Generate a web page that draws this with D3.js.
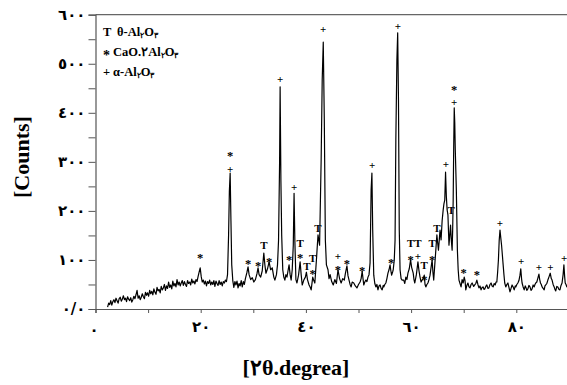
<!DOCTYPE html>
<html>
<head>
<meta charset="utf-8">
<script src="https://cdn.jsdelivr.net/npm/d3@7"></script>
<style>
  body { margin: 0; background: #fff; }
  svg { display: block; }
</style>
</head>
<body>
<div id="chart"></div>
<script>
// XRD pattern, [2theta, counts]
const pattern = [
  [2.3, 4], [2.5, 12], [2.7, 9], [2.9, 17], [3.1, 8], [3.3, 15], [3.5, 19], [3.7, 13], [3.9, 22], [4.1, 17],
  [4.3, 12], [4.5, 21], [4.7, 24], [4.9, 16], [5.1, 20], [5.3, 27], [5.5, 19], [5.7, 22], [5.9, 15], [6.1, 25],
  [6.3, 20], [6.5, 17], [6.7, 23], [6.9, 14], [7.1, 19], [7.3, 26], [7.5, 21], [7.7, 29], [7.9, 38], [8.1, 22],
  [8.3, 27], [8.5, 19], [8.7, 24], [8.9, 31], [9.1, 25], [9.3, 21], [9.5, 34], [9.7, 28], [9.9, 33], [10.1, 26],
  [10.3, 38], [10.5, 31], [10.7, 36], [10.9, 29], [11.1, 41], [11.3, 34], [11.5, 30], [11.7, 44], [11.9, 37], [12.1, 40],
  [12.3, 33], [12.5, 46], [12.7, 39], [12.9, 43], [13.1, 50], [13.3, 38], [13.5, 47], [13.7, 42], [13.9, 55], [14.1, 44],
  [14.3, 49], [14.5, 41], [14.7, 57], [14.9, 47], [15.1, 52], [15.3, 45], [15.5, 60], [15.7, 49], [15.9, 55], [16.1, 47],
  [16.3, 53], [16.5, 58], [16.7, 48], [16.9, 56], [17.1, 50], [17.3, 46], [17.5, 58], [17.7, 52], [17.9, 55], [18.1, 49],
  [18.3, 61], [18.5, 53], [18.7, 57], [18.9, 51], [19.1, 60], [19.3, 56], [19.5, 66], [19.7, 75], [19.9, 84], [20.1, 66],
  [20.3, 55], [20.5, 59], [20.7, 51], [20.9, 57], [21.1, 47], [21.3, 56], [21.5, 52], [21.7, 59], [21.9, 49], [22.1, 55],
  [22.3, 50], [22.5, 58], [22.7, 46], [22.9, 57], [23.1, 52], [23.3, 48], [23.5, 58], [23.7, 50], [23.9, 55], [24.1, 47],
  [24.3, 56], [24.5, 53], [24.7, 59], [24.9, 56], [25.1, 70], [25.3, 150], [25.45, 240], [25.6, 277], [25.75, 180], [25.9, 90],
  [26.1, 58], [26.3, 44], [26.5, 56], [26.7, 49], [26.9, 57], [27.1, 43], [27.3, 52], [27.5, 47], [27.7, 58], [27.9, 45],
  [28.1, 56], [28.3, 50], [28.5, 62], [28.8, 75], [29.0, 86], [29.2, 70], [29.5, 60], [29.8, 64], [30.1, 55], [30.4, 60],
  [30.7, 72], [30.9, 84], [31.1, 70], [31.4, 65], [31.7, 78], [32.0, 114], [32.2, 90], [32.4, 73], [32.7, 82], [33.0, 96],
  [33.3, 80], [33.6, 84], [33.9, 65], [34.1, 59], [34.4, 70], [34.6, 90], [34.8, 140], [35.0, 300], [35.1, 453], [35.25, 260],
  [35.4, 150], [35.6, 80], [35.8, 65], [36.0, 59], [36.2, 70], [36.4, 65], [36.6, 78], [36.8, 90], [37.0, 70], [37.2, 59],
  [37.4, 80], [37.6, 130], [37.75, 236], [37.9, 140], [38.1, 60], [38.3, 53], [38.6, 69], [38.9, 96], [39.1, 70], [39.3, 49],
  [39.6, 59], [39.9, 65], [40.1, 75], [40.3, 60], [40.6, 49], [40.8, 45], [41.0, 39], [41.3, 65], [41.5, 58], [41.7, 53],
  [42.0, 100], [42.3, 151], [42.6, 130], [42.9, 304], [43.1, 467], [43.3, 544], [43.5, 385], [43.7, 140], [43.9, 90], [44.2, 80],
  [44.4, 62], [44.6, 70], [44.9, 56], [45.2, 49], [45.5, 60], [45.8, 52], [46.1, 80], [46.4, 62], [46.7, 53], [47.0, 62],
  [47.3, 59], [47.5, 72], [47.8, 88], [48.0, 68], [48.2, 59], [48.4, 50], [48.6, 45], [48.8, 55], [49.1, 53], [49.4, 47],
  [49.7, 43], [50.0, 50], [50.3, 55], [50.5, 62], [50.7, 77], [50.9, 58], [51.0, 49], [51.2, 55], [51.4, 59], [51.6, 56],
  [51.8, 65], [52.0, 70], [52.2, 94], [52.4, 243], [52.55, 277], [52.7, 161], [52.9, 69], [53.1, 52], [53.3, 45], [53.5, 50],
  [53.7, 39], [53.9, 47], [54.1, 49], [54.3, 42], [54.5, 39], [54.7, 48], [54.8, 45], [55.0, 50], [55.2, 53], [55.4, 62],
  [55.6, 73], [55.8, 80], [56.0, 90], [56.15, 78], [56.3, 69], [56.5, 76], [56.6, 80], [56.8, 100], [56.95, 140], [57.1, 345],
  [57.3, 508], [57.45, 563], [57.6, 426], [57.75, 161], [57.9, 80], [58.1, 62], [58.3, 59], [58.6, 59], [58.8, 52], [59.0, 65],
  [59.2, 60], [59.4, 73], [59.65, 82], [59.9, 100], [60.1, 85], [60.4, 73], [60.55, 60], [60.7, 53], [61.0, 70], [61.3, 96],
  [61.5, 78], [61.7, 65], [61.9, 55], [62.1, 59], [62.3, 62], [62.5, 69], [62.65, 50], [62.8, 45], [63.0, 50], [63.2, 53],
  [63.4, 60], [63.6, 69], [63.8, 85], [64.0, 100], [64.15, 75], [64.3, 59], [64.5, 90], [64.7, 120], [64.9, 151], [65.05, 135],
  [65.2, 120], [65.35, 140], [65.5, 161], [65.7, 141], [65.9, 180], [66.1, 202], [66.25, 215], [66.4, 222], [66.55, 279], [66.7, 230],
  [66.85, 202], [67.0, 192], [67.2, 130], [67.35, 150], [67.5, 171], [67.65, 140], [67.8, 120], [67.9, 160], [68.0, 222], [68.1, 330],
  [68.2, 410], [68.3, 380], [68.4, 324], [68.6, 243], [68.8, 120], [68.95, 80], [69.1, 59], [69.3, 52], [69.5, 45], [69.7, 60],
  [69.9, 53], [70.1, 65], [70.25, 58], [70.4, 39], [70.6, 48], [70.8, 53], [71.0, 45], [71.2, 43], [71.4, 50], [71.6, 53],
  [71.9, 46], [72.1, 49], [72.3, 52], [72.5, 59], [72.7, 50], [72.9, 43], [73.1, 47], [73.3, 39], [73.5, 44], [73.7, 45],
  [73.85, 40], [74.0, 41], [74.2, 46], [74.4, 49], [74.6, 42], [74.8, 43], [75.0, 50], [75.2, 53], [75.4, 47], [75.6, 45],
  [75.8, 52], [76.0, 49], [76.15, 55], [76.3, 55], [76.45, 75], [76.6, 100], [76.75, 140], [76.9, 161], [77.05, 145], [77.2, 130],
  [77.35, 110], [77.5, 90], [77.65, 70], [77.8, 53], [78.0, 45], [78.2, 50], [78.4, 53], [78.6, 44], [78.8, 35], [79.0, 42],
  [79.2, 49], [79.4, 45], [79.6, 39], [79.8, 47], [79.9, 45], [80.1, 50], [80.3, 53], [80.5, 58], [80.7, 69], [80.85, 82],
  [81.0, 62], [81.1, 53], [81.3, 45], [81.5, 39], [81.7, 47], [81.8, 45], [82.0, 38], [82.2, 41], [82.4, 48], [82.6, 45],
  [82.8, 38], [83.0, 41], [83.2, 49], [83.4, 45], [83.55, 50], [83.7, 53], [83.9, 55], [84.1, 63], [84.3, 71], [84.45, 60],
  [84.6, 53], [84.75, 50], [84.9, 45], [85.1, 42], [85.3, 39], [85.45, 47], [85.6, 49], [85.8, 52], [86.0, 59], [86.2, 65],
  [86.45, 73], [86.65, 62], [86.8, 59], [87.0, 50], [87.2, 45], [87.35, 40], [87.5, 37], [87.7, 46], [87.9, 45], [88.1, 40],
  [88.3, 39], [88.5, 48], [88.7, 53], [88.9, 70], [89.05, 90], [89.2, 65], [89.3, 53], [89.45, 50], [89.6, 45], [89.8, 48]
];

// phase markers: [2theta, counts level, symbol]
const markers = [
  [19.9, 112, "*"],
  [25.6, 320, "*"], [25.6, 285, "+"],
  [29.0, 100, "*"], [30.9, 96, "*"], [32.0, 130, "T"], [33.0, 104, "*"],
  [35.1, 469, "+"], [36.8, 108, "*"], [37.75, 249, "+"],
  [38.9, 135, "T"], [38.9, 112, "*"], [40.2, 88, "T"],
  [41.3, 104, "T"], [41.3, 80, "*"], [42.3, 165, "T"], [43.3, 571, "+"],
  [46.1, 108, "+"], [46.1, 88, "*"], [47.8, 100, "*"], [50.7, 86, "*"],
  [52.6, 294, "+"], [56.2, 102, "*"], [57.5, 577, "+"],
  [59.9, 135, "T"], [59.9, 108, "*"], [61.3, 135, "T"], [61.3, 108, "+"],
  [62.5, 90, "T"], [62.5, 67, "*"], [64.0, 135, "T"], [64.0, 108, "*"],
  [64.9, 165, "T"], [66.6, 296, "+"], [67.6, 202, "T"],
  [68.2, 455, "*"], [68.2, 422, "+"],
  [70.0, 82, "*"], [72.5, 77, "*"],
  [76.9, 175, "+"], [80.9, 98, "+"], [84.3, 86, "+"], [86.5, 86, "+"], [89.1, 104, "+"]
];

const xTicks = [0, 10, 20, 30, 40, 50, 60, 70, 80, 90];
const xTickLabels = { 0: "٠", 20: "٢٠", 40: "٤٠", 60: "٦٠", 80: "٨٠" };
const yTicks = [0, 50, 100, 150, 200, 250, 300, 350, 400, 450, 500, 550, 600];
const yTickLabels = { 0: "٠/٠", 100: "١٠٠", 200: "٢٠٠", 300: "٣٠٠", 400: "٤٠٠", 500: "٥٠٠", 600: "٦٠٠" };

// legend rows: symbol, then text parts [text, isSubscript]
const legendRows = [
  ["T", [["θ-Al", 0], ["٢", 1], ["O", 0], ["٣", 1]]],
  ["*", [["CaO.٢Al", 0], ["٢", 1], ["O", 0], ["٣", 1]]],
  ["+", [["α-Al", 0], ["٢", 1], ["O", 0], ["٣", 1]]]
];

const W = 567, H = 385;
const plot = { left: 95.5, top: 14.7, bottom: 309 };
const serif = "'Liberation Serif', 'Times New Roman', 'DejaVu Serif', serif";
const arabic = "'DejaVu Sans', 'Liberation Serif', sans-serif";

const svg = d3.select("#chart").append("svg")
    .attr("width", W)
    .attr("height", H);

const x = d3.scaleLinear().domain([0, 90]).range([plot.left, plot.left + 90 * 5.26]);
const y = d3.scaleLinear().domain([0, 600]).range([plot.bottom, plot.top]);

// top frame line
svg.append("line")
    .attr("x1", plot.left).attr("x2", W)
    .attr("y1", plot.top).attr("y2", plot.top)
    .attr("stroke", "#666").attr("stroke-width", 1.2);

// axes
const yAxis = svg.append("g")
    .attr("transform", `translate(${plot.left},0)`)
    .call(d3.axisLeft(y).tickValues(yTicks).tickSize(7).tickPadding(3)
        .tickFormat(d => yTickLabels[d] || ""));

const xAxis = svg.append("g")
    .attr("transform", `translate(0,${plot.bottom})`)
    .call(d3.axisBottom(x).tickValues(xTicks).tickSize(4).tickPadding(8)
        .tickFormat(d => xTickLabels[d] || ""));

[xAxis, yAxis].forEach(a => {
    a.select(".domain").attr("stroke", "#555").attr("stroke-width", 1.2);
    a.selectAll(".tick line").attr("stroke", "#555");
    a.selectAll(".tick text")
        .attr("fill", "#000")
        .style("font-family", arabic)
        .style("font-weight", "bold")
        .style("font-size", "15px");
});
xAxis.selectAll(".tick text").filter(d => d === 0).attr("y", 15).attr("x", -2);

// clip + spectrum line
svg.append("clipPath").attr("id", "clip")
  .append("rect")
    .attr("x", plot.left).attr("y", plot.top)
    .attr("width", W - plot.left).attr("height", plot.bottom - plot.top);

const line = d3.line()
    .x(d => x(d[0]))
    .y(d => y(d[1]));

svg.append("path")
    .datum(pattern)
    .attr("clip-path", "url(#clip)")
    .attr("d", line)
    .attr("fill", "none")
    .attr("stroke", "#000")
    .attr("stroke-width", 1.2)
    .attr("stroke-linejoin", "round");

// phase markers
svg.append("g")
  .selectAll("text")
    .data(markers)
    .enter()
    .append("text")
    .attr("x", d => x(d[0]))
    .attr("y", d => y(d[1]))
    .attr("dy", d => d[2] === "*" ? "0.62em" : "0.35em")
    .attr("text-anchor", "middle")
    .attr("fill", "#000")
    .style("font-family", serif)
    .style("font-weight", "bold")
    .style("font-size", d => d[2] === "*" ? "12.5px" : "11px")
    .text(d => d[2]);

// legend
const legend = svg.append("g")
    .attr("fill", "#000")
    .style("font-family", serif)
    .style("font-weight", "bold")
    .style("font-size", "12.5px");

legendRows.forEach((row, i) => {
    const yy = 36 + i * 20;
    legend.append("text")
        .attr("x", 103).attr("y", yy + (row[0] === "*" ? 4 : 0))
        .style("font-size", row[0] === "*" ? "14px" : null)
        .text(row[0]);
    const t = legend.append("text")
        .attr("x", row[0] === "T" ? 117 : 113).attr("y", yy);
    row[1].forEach(p => {
        t.append("tspan")
            .attr("font-size", p[1] ? "8px" : null)
            .attr("baseline-shift", p[1] ? "-25%" : null)
            .text(p[0]);
    });
});

// axis titles
svg.append("text")
    .attr("transform", "translate(29,157) rotate(-90)")
    .attr("text-anchor", "middle")
    .style("font-family", serif)
    .style("font-weight", "bold")
    .style("font-size", "22px")
    .text("[Counts]");

svg.append("text")
    .attr("x", 296).attr("y", 375)
    .attr("text-anchor", "middle")
    .style("font-family", serif)
    .style("font-weight", "bold")
    .style("font-size", "22px")
    .text("[٢θ.degrea]");
</script>
</body>
</html>
